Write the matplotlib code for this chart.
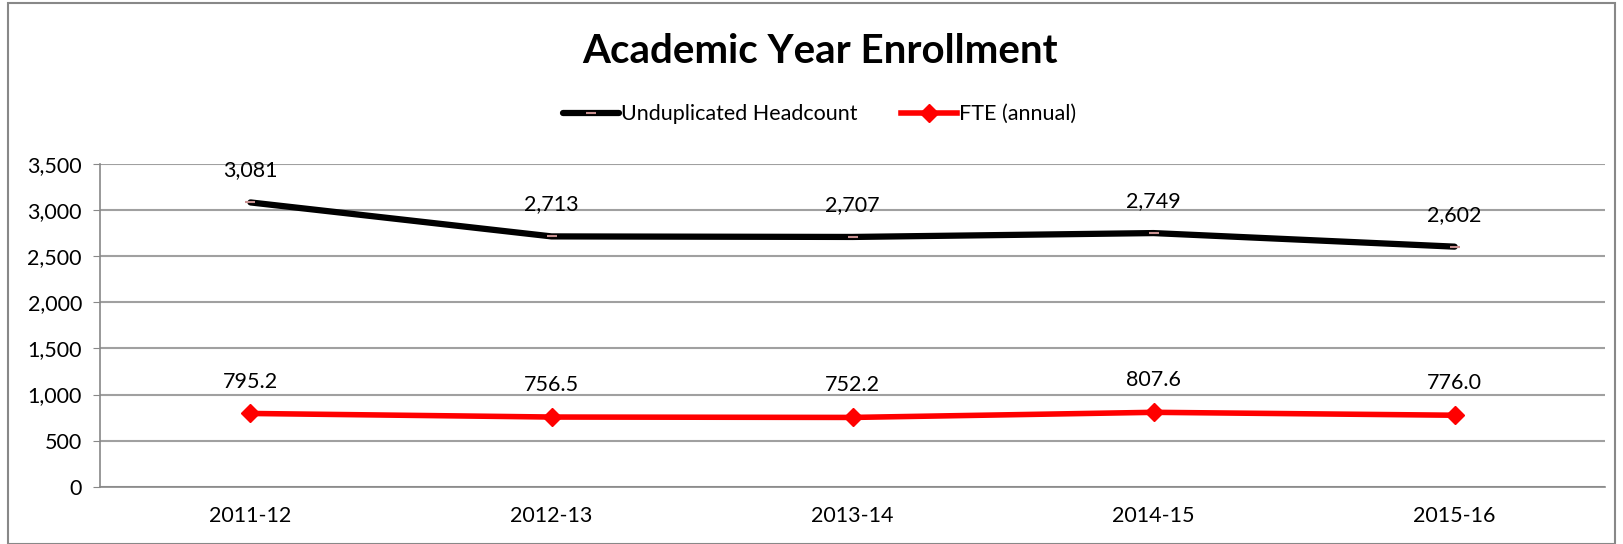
import matplotlib
matplotlib.use("Agg")
from matplotlib import pyplot as plt
from matplotlib.ticker import FuncFormatter

years = ["2011-12", "2012-13", "2013-14", "2014-15", "2015-16"]
headcount = [3081, 2713, 2707, 2749, 2602]
fte = [795.2, 756.5, 752.2, 807.6, 776.0]

plt.rcParams['font.family'] = ['Lato', 'DejaVu Sans']
fs = 15.5

fig = plt.figure(figsize=(16.23, 5.44), dpi=100)
ax = fig.add_axes([0.0616, 0.105, 0.9274, 0.594])

x = range(len(years))
ax.plot(x, headcount, color="black", lw=4.5, marker="_", markersize=7,
        markeredgecolor="#c89090", markeredgewidth=1.5, solid_capstyle="round",
        label="Unduplicated Headcount", zorder=3)
ax.plot(x, fte, color="#ff0000", lw=4, marker="D", markersize=9,
        markerfacecolor="#ff0000", markeredgecolor="#ff0000",
        label="FTE (annual)", zorder=3)

for i, v in enumerate(headcount):
    ax.annotate(f"{v:,}", (i, v), xytext=(0, 23), textcoords="offset points",
                ha="center", va="center", fontsize=fs)
for i, v in enumerate(fte):
    ax.annotate(f"{v:.1f}", (i, v), xytext=(0, 23), textcoords="offset points",
                ha="center", va="center", fontsize=fs)

ax.set_xlim(-0.5, len(years) - 0.5)
ax.set_ylim(0, 3500)
ax.set_yticks(range(0, 3501, 500))
ax.yaxis.set_major_formatter(FuncFormatter(lambda v, p: f"{int(v):,}"))
ax.set_xticks(list(x))
ax.set_xticklabels(years)
ax.tick_params(axis="y", length=5, color="#888888", labelsize=fs, pad=8)
ax.tick_params(axis="x", length=0, labelsize=fs, pad=14)
ax.grid(axis="y", color="#a0a0a0", lw=1.5)
ax.set_axisbelow(True)
for s in ["top", "right"]:
    ax.spines[s].set_visible(False)
ax.spines["left"].set_color("#888888")
ax.spines["bottom"].set_color("#888888")
ax.spines["left"].set_linewidth(1.2)
ax.spines["bottom"].set_linewidth(1.2)

fig.text(0.505, 0.905, "Academic Year Enrollment", ha="center", va="center",
         fontsize=29, fontweight="bold")
fig.legend(loc="center", bbox_to_anchor=(0.505, 0.79), ncol=2, frameon=False,
           fontsize=fs, handlelength=2.6, handletextpad=0.1, columnspacing=2.0)

# chart border
fig.patches.append(plt.Rectangle((0.005, 0.0), 0.99, 0.995, transform=fig.transFigure,
                                 fill=False, edgecolor="#888888", lw=1.5))

fig.savefig("out.png", dpi=100)
